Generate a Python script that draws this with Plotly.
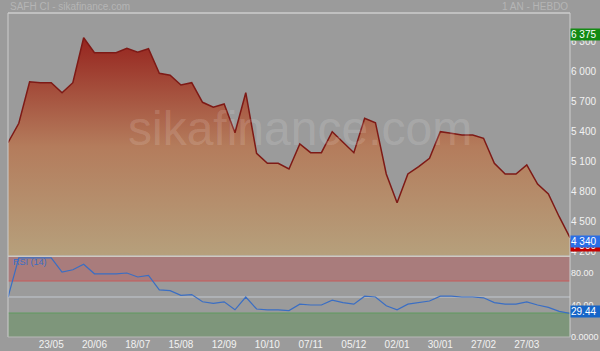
import datetime as dt
import plotly.graph_objects as go

# ---- data ----
start_date = dt.date(2016, 4, 25)
prices = [5290, 5484, 5900, 5890, 5890, 5790, 5890, 6340, 6190, 6190,
          6190, 6234, 6194, 6230, 5984, 5964, 5867, 5890, 5694, 5644,
          5677, 5390, 5790, 5184, 5084, 5084, 5027, 5277, 5190, 5190,
          5400, 5294, 5190, 5534, 5490, 4977, 4690, 4977, 5050, 5134,
          5400, 5384, 5367, 5367, 5334, 5084, 4977, 4977, 5067, 4877,
          4777, 4550, 4340]
rsi = [49.6, 99, 99, 99, 99, 81, 84, 91, 79, 79,
       79, 80, 75, 77, 59, 58, 52, 53, 44, 42,
       44, 34, 50, 35, 34, 34, 33, 41, 40, 40,
       46, 43, 41, 51, 50, 39, 34, 41, 43, 45,
       51, 51, 50, 50, 49, 43, 41, 41, 44, 40,
       37, 32, 29.44]
dates = [start_date + dt.timedelta(weeks=i) for i in range(len(prices))]

x_tick_dates = ["2016-05-23", "2016-06-20", "2016-07-18", "2016-08-15",
                "2016-09-12", "2016-10-10", "2016-11-07", "2016-12-05",
                "2017-01-02", "2017-01-30", "2017-02-27", "2017-03-27"]
x_tick_labels = ["23/05", "20/06", "18/07", "15/08", "12/09", "10/10",
                 "07/11", "05/12", "02/01", "30/01", "27/02", "27/03"]
price_ticks = [4200, 4500, 4800, 5100, 5400, 5700, 6000, 6300]
price_tick_labels = ["4 200", "4 500", "4 800", "5 100", "5 400", "5 700", "6 000", "6 300"]
rsi_ticks = [0, 40, 80]
rsi_tick_labels = ["0.0000", "40.00", "80.00"]
high_value = 6375
last_price = 4340
last_rsi = 29.44

BG = "#9b9b9b"
FONT = "Liberation Sans, Arial, sans-serif"

fig = go.Figure()
fig.add_trace(go.Scatter(
    x=dates, y=prices, mode="lines", fill="tozeroy",
    line=dict(color="#7e1a16", width=1.5),
    fillgradient=dict(type="vertical", start=4162, stop=6340,
                      colorscale=[[0, "rgb(182,160,124)"],
                                  [0.5, "rgb(180,124,92)"],
                                  [1, "rgb(150,36,30)"]]),
    hoverinfo="skip", showlegend=False, xaxis="x", yaxis="y"))
fig.add_trace(go.Scatter(
    x=dates, y=rsi, mode="lines",
    line=dict(color="#3a6ec4", width=1.2),
    hoverinfo="skip", showlegend=False, xaxis="x", yaxis="y2"))

P_BOT = (337 - 255.5) / 324
R_TOP = (337 - 257) / 324

shapes = [
    # RSI zones
    dict(type="rect", xref="paper", yref="y2", x0=0, x1=1, y0=70, y1=100,
         fillcolor="#a97c7c", line_width=0, layer="below"),
    dict(type="rect", xref="paper", yref="y2", x0=0, x1=1, y0=0, y1=30,
         fillcolor="#7e967b", line_width=0, layer="below"),
    dict(type="line", xref="paper", yref="y2", x0=0, x1=1, y0=70, y1=70,
         line=dict(color="#c85a5a", width=1), layer="below"),
    dict(type="line", xref="paper", yref="y2", x0=0, x1=1, y0=50, y1=50,
         line=dict(color="#c2c8d0", width=1), layer="below"),
    dict(type="line", xref="paper", yref="y2", x0=0, x1=1, y0=30, y1=30,
         line=dict(color="#5e9a5e", width=1), layer="below"),
    # separator
    dict(type="rect", xref="paper", yref="paper", x0=0, x1=1, y0=R_TOP, y1=P_BOT,
         fillcolor="#cfcac2", line_width=0),
    # frame
    dict(type="line", xref="paper", yref="paper", x0=0, x1=0, y0=0, y1=1,
         line=dict(color="#cdcdcd", width=1)),
    dict(type="line", xref="paper", yref="paper", x0=1, x1=1, y0=0, y1=1,
         line=dict(color="#cdcdcd", width=1)),
    dict(type="line", xref="paper", yref="paper", x0=0, x1=1, y0=1, y1=1,
         line=dict(color="#cdcdcd", width=1.5)),
    dict(type="line", xref="paper", yref="paper", x0=0, x1=1, y0=0, y1=0,
         line=dict(color="#b8b8b8", width=1)),
]

annotations = [
    dict(text="sikafinance.com", xref="paper", yref="paper", x=0.52, y=0.645,
         showarrow=False, font=dict(family=FONT, size=48, color="rgba(255,255,255,0.15)")),
    dict(text="SAFH CI - sikafinance.com", xref="paper", yref="paper", x=0, y=1,
         yshift=7, xanchor="left", yanchor="middle", showarrow=False,
         font=dict(family=FONT, size=10, color="#b5b5b5")),
    dict(text="1 AN - HEBDO", xref="paper", yref="paper", x=1, y=1,
         yshift=7, xanchor="right", yanchor="middle", showarrow=False,
         font=dict(family=FONT, size=10, color="#b5b5b5")),
    dict(text="RSI (14)", xref="paper", yref="y2", x=0.006, y=94,
         xanchor="left", yanchor="middle", showarrow=False,
         font=dict(family=FONT, size=9, color="#3a6ec4")),
    dict(text="6 375", xref="paper", yref="y", x=1, y=high_value, xanchor="left",
         yanchor="middle", showarrow=False, bgcolor="#138a13", width=29, height=11,
         borderpad=0, align="left", font=dict(family=FONT, size=10, color="white")),
    dict(text="4 300", xref="paper", yref="y", x=1, y=4300, yshift=-4, xanchor="left",
         yanchor="middle", showarrow=False, bgcolor="#c40000", width=29, height=11,
         borderpad=0, align="left", font=dict(family=FONT, size=10, color="white")),
    dict(text="4 340", xref="paper", yref="y", x=1, y=last_price, yshift=-4, xanchor="left",
         yanchor="middle", showarrow=False, bgcolor="#2a6ee6", width=29, height=11,
         borderpad=0, align="left", font=dict(family=FONT, size=10, color="white")),
    dict(text="29.44", xref="paper", yref="y2", x=1, y=last_rsi, yshift=2, xanchor="left",
         yanchor="middle", showarrow=False, bgcolor="#1565c8", width=29, height=11,
         borderpad=0, align="left", font=dict(family=FONT, size=10, color="white")),
]

fig.update_layout(
    width=600, height=351,
    margin=dict(l=8, r=30, t=13, b=14, autoexpand=False),
    paper_bgcolor=BG, plot_bgcolor=BG,
    showlegend=False,
    font=dict(family=FONT, size=10, color="#eeeeee"),
    xaxis=dict(type="date", range=[dates[0], dates[-1]], anchor="y2", automargin=False,
               tickvals=x_tick_dates, ticktext=x_tick_labels,
               showgrid=False, zeroline=False, showline=False, ticks="",
               tickfont=dict(family=FONT, size=10, color="#f2f2f2")),
    yaxis=dict(domain=[P_BOT, 1], range=[4162, 6587], side="right", anchor="x",
               automargin=False,
               tickvals=price_ticks, ticktext=price_tick_labels,
               showgrid=False, zeroline=False, showline=False, ticks="",
               tickfont=dict(family=FONT, size=10, color="#f2f2f2")),
    yaxis2=dict(domain=[0, R_TOP], range=[0, 100], side="right", anchor="x",
                automargin=False,
                tickvals=rsi_ticks, ticktext=rsi_tick_labels,
                showgrid=False, zeroline=False, showline=False, ticks="",
                tickfont=dict(family=FONT, size=9, color="#f2f2f2")),
    shapes=shapes,
    annotations=annotations,
)

fig.write_html("out.html")
